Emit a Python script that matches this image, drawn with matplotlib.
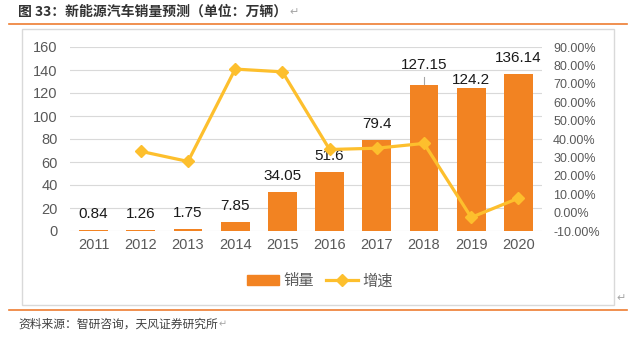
import matplotlib.pyplot as plt
import matplotlib.patches as mpatches
from matplotlib.lines import Line2D

plt.rcParams['font.family'] = ['Liberation Sans', 'Noto Sans CJK SC', 'DejaVu Sans']

years = ['2011', '2012', '2013', '2014', '2015', '2016', '2017', '2018', '2019', '2020']
sales = [0.84, 1.26, 1.75, 7.85, 34.05, 51.6, 79.4, 127.15, 124.2, 136.14]
# growth (%), 2011 has no point
growth = [None, 33.3, 27.8, 78.0, 76.5, 34.3, 35.0, 37.6, -2.6, 7.8]

W, H = 631, 338
fig = plt.figure(figsize=(W / 100, H / 100), dpi=100)

def px(x, y):
    return x / W, 1 - y / H

bar_c = '#F28322'
line_c = '#FDBF2D'
grey = '#595959'

# frame, orange rules
fig.patches.append(mpatches.Rectangle(px(22, 305), 592 / W, 276 / H, transform=fig.transFigure,
                                      fill=False, ec='#D9D9D9', lw=1))
fig.add_artist(Line2D([9 / W, 627 / W], [1 - 23.5 / H] * 2, color='#ED7D31', lw=1.2))
fig.add_artist(Line2D([9 / W, 627 / W], [1 - 310 / H] * 2, color='#ED7D31', lw=1.2))

fig.text(*px(18, 12), '图 33：新能源汽车销量预测（单位：万辆）', fontsize=10, fontweight='bold',
         color='#333333', va='center', ha='left', family=['Noto Sans CJK SC', 'DejaVu Sans'])
fig.text(*px(289, 12), '↵', fontsize=8, color='#A6A6A6', va='center', family='DejaVu Sans')
fig.text(*px(18, 324), '资料来源：智研咨询，天风证券研究所', fontsize=8.5, color='#404040',
         va='center', ha='left', family=['Noto Sans CJK SC', 'DejaVu Sans'])
fig.text(*px(219, 324), '↵', fontsize=7, color='#A6A6A6', va='center', family='DejaVu Sans')
fig.text(*px(616, 298), '↵', fontsize=8, color='#A6A6A6', va='center', family='DejaVu Sans')

ax = fig.add_axes([70 / W, 1 - 231 / H, 472 / W, 184 / H])
x = list(range(len(years)))
ax.bar(x, sales, width=0.61, color=bar_c, zorder=2, label='销量')
ax.set_ylim(0, 160)
ax.set_xlim(-0.5, len(years) - 0.5)
ax.set_yticks(range(0, 161, 20))
ax.set_xticks(x)
ax.set_xticklabels(years)
ax.grid(axis='y', color='#D9D9D9', lw=0.8, zorder=0)
for s in ax.spines.values():
    s.set_visible(False)
ax.tick_params(axis='y', length=0, pad=9, labelsize=10.5, labelcolor=grey)
ax.tick_params(axis='x', length=0, pad=5, labelsize=10.5, labelcolor=grey)

offsets = {7: 20, 8: 8}
for i, v in enumerate(sales):
    off = offsets.get(i, 16)
    ax.annotate(f'{v:g}', (i, v), xytext=(0, off), textcoords='offset pixels',
                ha='center', va='center', fontsize=11, color='#1A1A1A', zorder=5)
ax.plot([7, 7], [sales[7] + 0.4, sales[7] + 7], color='#A6A6A6', lw=0.8, zorder=4)

ax2 = ax.twinx()
gx = [i for i, g in enumerate(growth) if g is not None]
gy = [g for g in growth if g is not None]
ax2.plot(gx, gy, color=line_c, lw=2.3, marker='D', markersize=6.5, zorder=3, label='增速')
ax2.set_ylim(-10, 90)
ax2.set_yticks(range(-10, 91, 10))
ax2.set_yticklabels([f'{t:.2f}%' for t in range(-10, 91, 10)])
for s in ax2.spines.values():
    s.set_visible(False)
ax2.tick_params(axis='y', length=0, pad=8, labelsize=9, labelcolor=grey)

handles = [mpatches.Rectangle((0, 0), 1, 1, color=bar_c),
           Line2D([], [], color=line_c, lw=2.3, marker='D', markersize=6.5)]
fig.legend(handles, ['销量', '增速'], loc='center', bbox_to_anchor=px(320, 281), ncol=2,
           frameon=False, prop={'family': ['Noto Sans CJK SC', 'DejaVu Sans'], 'size': 11},
           labelcolor=grey, handlelength=2.1, handletextpad=0.3, columnspacing=0.8,
           handleheight=0.55)

fig.savefig('out.png', dpi=100)
